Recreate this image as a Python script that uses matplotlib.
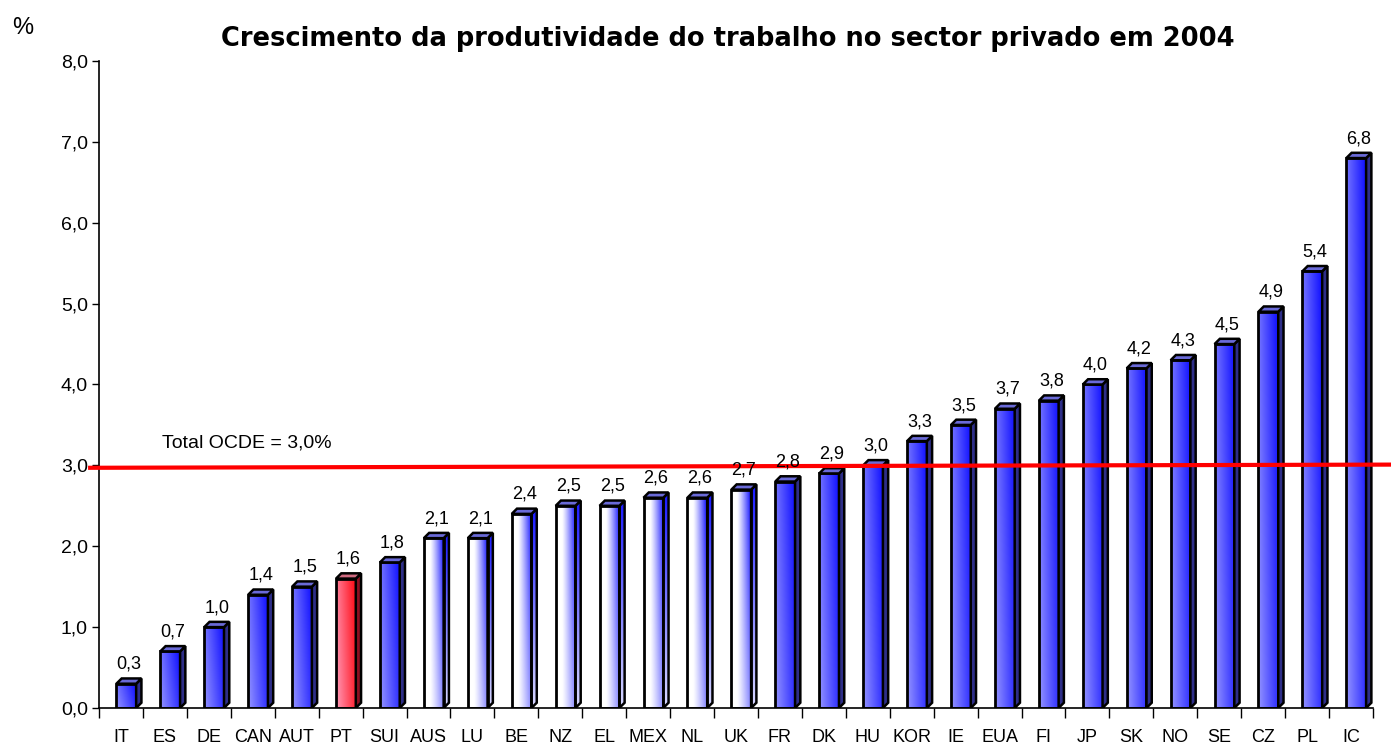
import numpy as np
import matplotlib
matplotlib.use("Agg")
import matplotlib.pyplot as plt
from matplotlib.patches import Polygon, Rectangle
from matplotlib.ticker import FixedLocator

# data
countries = ["IT", "ES", "DE", "CAN", "AUT", "PT", "SUI", "AUS", "LU", "BE",
             "NZ", "EL", "MEX", "NL", "UK", "FR", "DK", "HU", "KOR", "IE",
             "EUA", "FI", "JP", "SK", "NO", "SE", "CZ", "PL", "IC"]
values = [0.3, 0.7, 1.0, 1.4, 1.5, 1.6, 1.8, 2.1, 2.1, 2.4,
          2.5, 2.5, 2.6, 2.6, 2.7, 2.8, 2.9, 3.0, 3.3, 3.5,
          3.7, 3.8, 4.0, 4.2, 4.3, 4.5, 4.9, 5.4, 6.8]
# bar style: b = blue, w = white/blue, r = Portugal
kinds = ["b", "b", "b", "b", "b", "r", "b", "w", "w", "w",
         "w", "w", "w", "w", "w", "b", "b", "b", "b", "b",
         "b", "b", "b", "b", "b", "b", "b", "b", "b"]
oecd_total = 3.0

title = "Crescimento da produtividade do trabalho no sector privado em 2004"

plt.rcParams["font.family"] = ["Liberation Sans", "DejaVu Sans"]

fig = plt.figure(figsize=(13.91, 7.45), dpi=100)
ax = fig.add_axes([0.0712, 0.0497, 0.9158, 0.8684])

width = 0.45
off = 0.12
dx = 0.12
dy = 0.065


def hexrgb(h):
    h = h.lstrip("#")
    return np.array([int(h[i:i + 2], 16) for i in (0, 2, 4)]) / 255.0


def face_img(kind, h):
    nx, ny = 40, 60
    xf = np.linspace(0, 1, nx)[None, :]
    yf = np.linspace(0, 1, ny)[:, None]
    if kind == "w":
        m = np.clip((xf - 0.3) / 0.7, 0, 1) ** 1.2 * (0.5 + 0.5 * yf)
        c0, c1 = hexrgb("#ffffff"), hexrgb("#1010ff")
    elif kind == "r":
        m = np.clip(0.8 * xf + 0.2 * yf, 0, 1) * np.ones((ny, nx))
        c0, c1 = hexrgb("#ff9ab8"), hexrgb("#ff0a14")
    else:
        m = np.clip(0.75 * xf + 0.25 * yf, 0, 1) * np.ones((ny, nx))
        c0, c1 = hexrgb("#9494ff"), hexrgb("#1010ff")
    return c0[None, None, :] * (1 - m[..., None]) + c1[None, None, :] * m[..., None]


side_cols = {"b": "#2e2e88", "r": "#8c1020", "w": None}
top_cols = {"b": "#6a6ad8", "r": "#d06a80", "w": "#6a6ad8"}

for i, (v, k) in enumerate(zip(values, kinds)):
    x0 = i - width / 2 + off
    x1 = x0 + width
    # front face with gradient
    ax.imshow(face_img(k, v), extent=(x0, x1, 0, v), origin="lower",
              aspect="auto", interpolation="bilinear", zorder=2)
    ax.add_patch(Rectangle((x0, 0), width, v, fill=False, ec="black", lw=2, zorder=3))
    # side face
    side = Polygon([(x1, 0), (x1 + dx, dy), (x1 + dx, v + dy), (x1, v)], closed=True,
                   fc=side_cols[k] if side_cols[k] else "none", ec="black", lw=1.8, zorder=3)
    ax.add_patch(side)
    if k == "w":
        yy = np.linspace(0, 1, 60)[:, None, None]
        grad = hexrgb("#d8d8ff") * (1 - yy) + hexrgb("#1a1aff") * yy
        grad = np.repeat(grad, 4, axis=1)
        im = ax.imshow(grad, extent=(x1, x1 + dx, 0, v + dy), origin="lower",
                       aspect="auto", interpolation="bilinear", zorder=2)
        im.set_clip_path(side)
    # top face
    ax.add_patch(Polygon([(x0, v), (x0 + dx, v + dy), (x1 + dx, v + dy), (x1, v)], closed=True,
                         fc=top_cols[k], ec="black", lw=1.8, zorder=3))
    # value label
    ax.text((x0 + x1) / 2 + dx / 2, v + dy + 0.07, f"{v:.1f}".replace(".", ","),
            ha="center", va="bottom", fontsize=13, zorder=5)

# OECD total line
ax.plot([-0.75, 29.4], [oecd_total - 0.03, oecd_total + 0.01], color="red", lw=3,
        clip_on=False, zorder=4, solid_capstyle="butt")
ax.text(0.93, oecd_total + 0.28, "Total OCDE = 3,0%", fontsize=14, ha="left", va="center")

ax.set_xlim(-0.5, len(countries) - 0.5)
ax.set_ylim(0, 8)

ax.set_yticks(np.arange(0, 9, 1))
ax.set_yticklabels([f"{t:.1f}".replace(".", ",") for t in range(9)], fontsize=14)
ax.set_xticks(range(len(countries)))
ax.set_xticklabels(countries, fontsize=13)
ax.xaxis.set_minor_locator(FixedLocator(np.arange(-0.5, len(countries), 1)))
ax.tick_params(axis="x", which="major", length=0, pad=15)
ax.tick_params(axis="x", which="minor", length=7, width=1, direction="out")
ax.tick_params(axis="y", length=5, width=1, direction="out", pad=3)

for s in ["top", "right"]:
    ax.spines[s].set_visible(False)
for s in ["left", "bottom"]:
    ax.spines[s].set_linewidth(1.2)

fig.text(0.523, 0.948, title, ha="center", va="center", fontsize=18.5,
         fontweight="bold", family="DejaVu Sans")
fig.text(0.009, 0.962, "%", fontsize=17, ha="left", va="center")

fig.savefig("out.png", dpi=100)
